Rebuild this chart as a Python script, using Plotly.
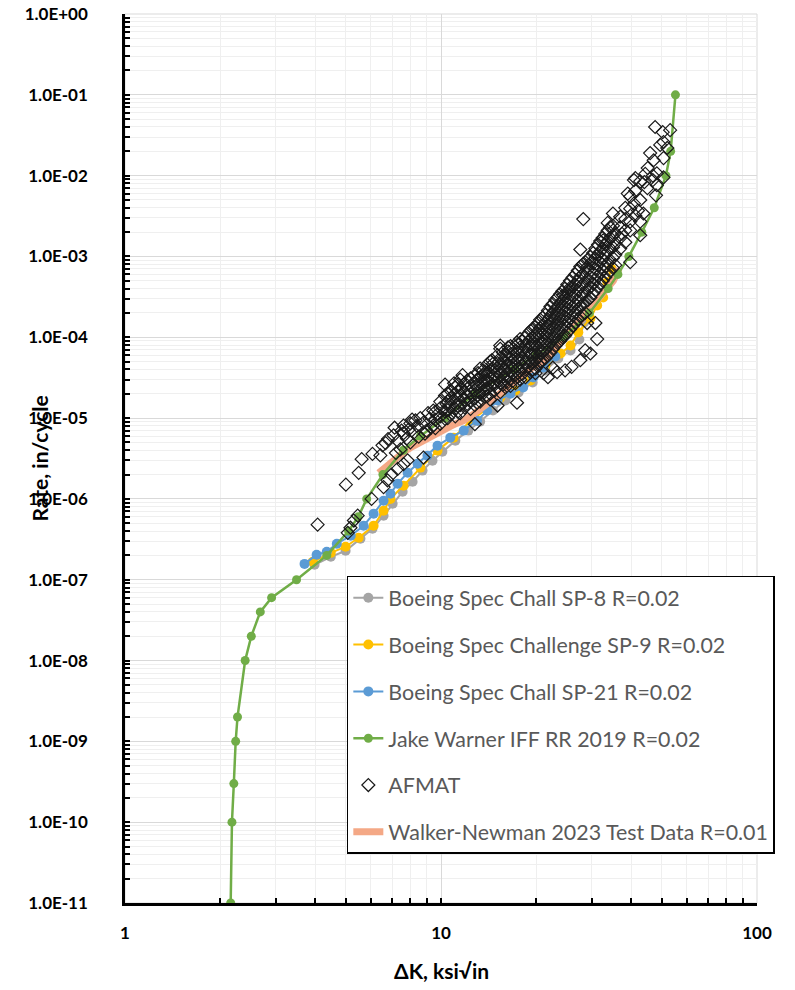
import plotly.graph_objects as go

# ---------------- data ----------------
sp8_dk = [3.98, 4.48, 4.99, 5.56, 6.07, 6.58, 7.03, 7.56, 8.13, 8.74, 9.40, 10.1, 11.1, 12.2,
          13.3, 14.6, 16.0, 17.6, 19.5, 21.4, 23.5, 25.7, 27.4, 28.4, 29.0, 29.5, 29.2]
sp8_rate = [1.53e-7, 1.92e-7, 2.28e-7, 3.21e-7, 4.27e-7, 6.19e-7, 8.7e-7, 1.23e-6, 1.63e-6,
            2.24e-6, 2.97e-6, 3.84e-6, 5.26e-6, 7.0e-6, 9.05e-6, 1.24e-5, 1.65e-5, 2.07e-5,
            2.75e-5, 3.88e-5, 5.46e-5, 6.86e-5, 9.4e-5, 1.53e-4, 2.86e-4, 4.78e-4, 7.76e-4]

sp9_dk = [3.93, 4.48, 4.99, 5.49, 6.12, 6.58, 6.92, 7.61, 8.61, 9.75, 10.95, 12.4, 14.0, 15.4,
          17.2, 19.2, 21.4, 23.9, 25.7, 27.2, 29.7, 31.2, 32.6, 33.6, 34.6]
sp9_rate = [1.67e-7, 2.15e-7, 2.56e-7, 3.31e-7, 4.66e-7, 7.14e-7, 1.0e-6, 1.46e-6, 2.44e-6,
            3.96e-6, 5.73e-6, 9.3e-6, 1.31e-5, 1.79e-5, 2.19e-5, 2.92e-5, 4.48e-5, 6.3e-5,
            7.9e-5, 1.15e-4, 1.71e-4, 2.48e-4, 3.11e-4, 4.78e-4, 7.1e-4]

sp21_dk = [3.70, 4.04, 4.35, 4.68, 5.18, 5.69, 6.12, 6.58, 6.92, 7.29, 7.84, 8.43, 9.06, 9.75,
           10.7, 11.8, 13.0, 14.0, 15.1, 16.6, 18.2, 19.6, 21.1, 23.0]
sp21_rate = [1.57e-7, 2.04e-7, 2.22e-7, 2.79e-7, 3.5e-7, 4.66e-7, 6.56e-7, 9.5e-7, 1.16e-6,
             1.54e-6, 2.11e-6, 2.73e-6, 3.43e-6, 4.56e-6, 5.73e-6, 7.0e-6, 9.3e-6, 1.24e-5,
             1.65e-5, 2.01e-5, 2.39e-5, 3.18e-5, 4.23e-5, 5.8e-5]

jw_dk = [2.16, 2.18, 2.21, 2.24, 2.27, 2.40, 2.51, 2.68, 2.91, 3.49, 4.35, 5.10, 5.47, 5.82,
         6.55, 7.60, 8.61, 10.3, 12.8, 17.0, 20.0, 24.5, 29.5, 33.8, 36.3, 39.3, 43.2, 47.3,
         51.5, 53.3, 55.2]
jw_rate = [1e-11, 1e-10, 3e-10, 1e-9, 2e-9, 1e-8, 2e-8, 4e-8, 6e-8, 1e-7, 2e-7, 4e-7, 6e-7,
           1e-6, 2e-6, 4e-6, 6e-6, 1e-5, 2e-5, 4e-5, 6e-5, 1e-4, 2e-4, 4e-4, 6e-4, 1e-3, 2e-3,
           4e-3, 1e-2, 2e-2, 1e-1]

wn_dk = [6.35, 6.68, 6.92, 7.2, 7.44, 7.7, 8.0, 8.4, 8.81, 9.25, 9.75, 10.2, 10.7, 11.2, 11.8,
         12.6, 13.6, 14.6, 15.8, 17.0, 18.2, 19.6, 21.1, 22.8, 24.4, 26.2, 28.2, 30.3, 32.6,
         35.1, 36.6]
wn_rate = [2.1e-6, 2.5e-6, 2.8e-6, 3.1e-6, 3.4e-6, 3.9e-6, 4.3e-6, 4.8e-6, 5.3e-6, 5.9e-6,
           6.6e-6, 7.2e-6, 7.9e-6, 8.6e-6, 9.3e-6, 1.1e-5, 1.35e-5, 1.7e-5, 2.2e-5, 2.8e-5,
           3.5e-5, 4.3e-5, 5.2e-5, 7.0e-5, 9.9e-5, 1.3e-4, 1.75e-4, 2.5e-4, 3.5e-4, 5.0e-4, 7.1e-4]

# AFMAT scatter: (delta K, rate) pairs
afmat_points = [
    (4.07, 4.8e-7), (5.0, 1.5e-6), (5.07, 3.8e-7), (5.17, 4.4e-7), (5.3, 5.4e-7), (5.45, 6.2e-7),
    (5.49, 2.1e-6), (5.61, 3.1e-6), (6.03, 1.0e-6), (6.07, 3.6e-6), (6.43, 3.45e-6), (6.53, 4.6e-6),
    (6.68, 4.9e-6), (6.58, 1.4e-6), (6.77, 1.7e-6), (6.97, 2.0e-6), (7.08, 6.1e-6), (7.13, 7.6e-6),
    (7.29, 2.35e-6), (7.61, 2.7e-6), (7.61, 8.1e-6), (7.61, 6.5e-6), (7.84, 3.0e-6), (8.0, 8.6e-6),
    (8.3, 9.35e-6), (8.6, 1.0e-5), (8.8, 3.25e-6), (9.1, 1.15e-5), (9.45, 1.24e-5), (9.95, 1.33e-5),
    (10.4, 1.5e-5), (7.44, 4.1e-6), (8.0, 5.0e-6), (8.5, 5.9e-6), (9.0, 7.0e-6), (9.45, 8.1e-6),
    (7.2, 3.7e-6), (7.3, 5.2e-6), (7.8, 5.6e-6), (7.9, 7.2e-6), (8.2, 6.6e-6), (8.4, 8.0e-6),
    (8.8, 8.8e-6), (8.9, 6.4e-6), (9.2, 9.8e-6), (9.3, 7.6e-6), (9.7, 1.1e-5), (6.8, 5.5e-6),
    (7.5, 7.0e-6), (8.1, 9.6e-6),
    (9.6, 1.2e-5), (9.6, 9.5e-6), (9.6, 7.5e-6),
    (9.95, 1.6e-5), (9.95, 1.05e-5), (9.95, 8.5e-6),
    (10.3, 1.9e-5), (10.3, 1.2e-5), (10.3, 9.8e-6), (10.3, 2.6e-5),
    (10.5, 2.0e-5), (10.5, 1.6e-5), (10.5, 1.25e-5), (10.5, 1.0e-5),
    (10.7, 2.2e-5), (10.7, 1.75e-5), (10.7, 1.4e-5), (10.7, 1.1e-5),
    (11.0, 2.7e-5),
    (11.1, 2.4e-5), (11.1, 2.0e-5), (11.1, 1.6e-5), (11.1, 1.3e-5), (11.1, 1.05e-5),
    (11.3, 2.6e-5), (11.3, 2.15e-5), (11.3, 1.75e-5), (11.3, 1.4e-5), (11.3, 1.2e-5),
    (11.5, 3.0e-5), (11.5, 2.3e-5), (11.5, 1.85e-5), (11.5, 1.45e-5), (11.5, 1.15e-5),
    (11.7, 3.4e-5),
    (11.9, 2.7e-5), (11.9, 2.1e-5), (11.9, 1.7e-5), (11.9, 1.35e-5),
    (12.1, 2.9e-5), (12.1, 2.3e-5), (12.1, 1.85e-5), (12.1, 1.5e-5),
    (12.4, 3.1e-5), (12.4, 2.5e-5), (12.4, 2.0e-5), (12.4, 1.6e-5), (12.4, 1.3e-5),
    (12.8, 3.4e-5), (12.8, 2.7e-5), (12.8, 2.2e-5), (12.8, 1.75e-5), (12.8, 1.45e-5), (12.8, 8.4e-6),
    (13.0, 3.0e-5), (13.0, 2.4e-5), (13.0, 1.9e-5), (13.0, 1.55e-5),
    (13.1, 3.6e-5),
    (13.3, 4.1e-5), (13.3, 3.2e-5), (13.3, 2.5e-5), (13.3, 2.0e-5), (13.3, 1.6e-5),
    (13.6, 3.9e-5), (13.6, 3.4e-5), (13.6, 2.7e-5), (13.6, 2.15e-5),
    (13.8, 3.7e-5), (13.8, 2.9e-5), (13.8, 2.3e-5), (13.8, 1.85e-5),
    (14.0, 4.6e-5), (14.0, 3.6e-5), (14.0, 2.9e-5), (14.0, 2.3e-5), (14.0, 1.85e-5),
    (14.3, 5.0e-5), (14.3, 3.9e-5), (14.3, 3.1e-5), (14.3, 2.5e-5), (14.3, 2.0e-5), (14.3, 1.7e-5),
    (14.5, 5.2e-5),
    (14.6, 4.7e-5), (14.6, 4.1e-5), (14.6, 3.3e-5), (14.6, 2.6e-5),
    (14.8, 4.4e-5), (14.8, 3.5e-5), (14.8, 2.8e-5), (14.8, 2.2e-5),
    (15.1, 1.43e-5),
    (15.1, 6.0e-5), (15.1, 4.8e-5), (15.1, 3.8e-5), (15.1, 3.0e-5), (15.1, 2.4e-5),
    (15.4, 7.2e-5), (15.4, 5.5e-5), (15.4, 4.3e-5), (15.4, 3.4e-5), (15.4, 2.7e-5), (15.4, 2.1e-5),
    (15.4, 7.9e-5),
    (15.7, 6.5e-5), (15.7, 5.1e-5), (15.7, 4.0e-5), (15.7, 3.2e-5), (15.7, 2.6e-5),
    (16.0, 6.0e-5), (16.0, 4.8e-5), (16.0, 3.8e-5), (16.0, 3.0e-5), (16.0, 2.4e-5),
    (16.3, 7.5e-5),
    (16.3, 6.7e-5), (16.3, 5.4e-5), (16.3, 4.3e-5), (16.3, 3.4e-5), (16.3, 2.8e-5),
    (16.6, 7.8e-5), (16.6, 6.2e-5), (16.6, 4.9e-5), (16.6, 3.9e-5), (16.6, 3.1e-5), (16.6, 2.5e-5),
    (16.9, 7.2e-5), (16.9, 5.8e-5), (16.9, 4.6e-5), (16.9, 3.6e-5), (16.9, 2.9e-5),
    (17.2, 6.8e-5), (17.2, 5.4e-5), (17.2, 4.3e-5), (17.2, 3.4e-5), (17.2, 2.7e-5),
    (17.4, 8.6e-5), (17.4, 1.55e-5),
    (17.5, 8.2e-5), (17.5, 6.5e-5), (17.5, 5.2e-5), (17.5, 4.1e-5), (17.5, 3.2e-5),
    (17.8, 9.5e-5), (17.8, 7.5e-5), (17.8, 6.0e-5), (17.8, 4.8e-5), (17.8, 3.8e-5), (17.8, 3.0e-5),
    (18.1, 9.0e-5), (18.1, 7.0e-5), (18.1, 5.5e-5), (18.1, 4.4e-5), (18.1, 3.5e-5),
    (18.5, 1.0e-4), (18.5, 8.0e-5), (18.5, 6.4e-5), (18.5, 5.0e-5), (18.5, 4.0e-5), (18.5, 3.2e-5),
    (18.8, 1.1e-4), (18.8, 8.7e-5), (18.8, 6.9e-5), (18.8, 5.5e-5), (18.8, 4.3e-5),
    (19.2, 1.2e-4), (19.2, 9.5e-5), (19.2, 7.5e-5), (19.2, 6.0e-5), (19.2, 4.7e-5), (19.2, 3.7e-5),
    (19.5, 1.28e-4), (19.5, 1.0e-4), (19.5, 8.0e-5), (19.5, 6.3e-5), (19.5, 5.0e-5), (19.5, 4.0e-5),
    (19.9, 1.35e-4), (19.9, 1.05e-4), (19.9, 8.3e-5), (19.9, 6.5e-5), (19.9, 5.2e-5), (19.9, 4.1e-5),
    (19.9, 3.6e-5),
    (20.2, 1.1e-4),
    (20.3, 1.5e-4), (20.3, 1.2e-4), (20.3, 9.3e-5), (20.3, 7.3e-5), (20.3, 5.7e-5), (20.3, 4.6e-5),
    (20.6, 1.65e-4), (20.6, 1.3e-4), (20.6, 1.0e-4), (20.6, 8.0e-5), (20.6, 6.3e-5), (20.6, 5.0e-5),
    (21.0, 1.75e-4), (21.0, 1.4e-4), (21.0, 1.08e-4), (21.0, 8.5e-5), (21.0, 6.6e-5), (21.0, 5.2e-5),
    (21.1, 3.6e-5),
    (21.4, 1.9e-4), (21.4, 1.5e-4), (21.4, 1.15e-4), (21.4, 9.0e-5), (21.4, 7.0e-5), (21.4, 5.5e-5),
    (21.8, 3.2e-5),
    (21.8, 2.15e-4), (21.8, 1.65e-4), (21.8, 1.3e-4), (21.8, 1.0e-4), (21.8, 7.8e-5), (21.8, 6.0e-5),
    (22.2, 2.4e-4), (22.2, 1.85e-4), (22.2, 1.45e-4), (22.2, 1.1e-4), (22.2, 8.5e-5), (22.2, 6.5e-5),
    (22.6, 4.2e-5),
    (22.6, 2.6e-4), (22.6, 2.0e-4), (22.6, 1.55e-4), (22.6, 1.2e-4), (22.6, 9.3e-5), (22.6, 7.2e-5),
    (23.0, 2.9e-4), (23.0, 2.2e-4), (23.0, 1.7e-4), (23.0, 1.3e-4), (23.0, 1.0e-4), (23.0, 7.8e-5),
    (23.3, 3.7e-5),
    (23.4, 3.1e-4), (23.4, 2.4e-4), (23.4, 1.85e-4), (23.4, 1.42e-4), (23.4, 1.1e-4), (23.4, 8.5e-5),
    (23.8, 3.4e-4), (23.8, 2.6e-4), (23.8, 2.0e-4), (23.8, 1.55e-4), (23.8, 1.2e-4), (23.8, 9.0e-5),
    (24.2, 3.7e-4), (24.2, 2.85e-4), (24.2, 2.2e-4), (24.2, 1.7e-4), (24.2, 1.3e-4), (24.2, 1.0e-4),
    (24.4, 3.3e-4),
    (24.7, 4.0e-4), (24.7, 3.1e-4), (24.7, 2.4e-4), (24.7, 1.8e-4), (24.7, 1.4e-4), (24.7, 1.05e-4),
    (24.7, 3.9e-5),
    (25.1, 4.5e-4), (25.1, 3.5e-4), (25.1, 2.65e-4), (25.1, 2.0e-4), (25.1, 1.55e-4), (25.1, 1.15e-4),
    (25.6, 5.0e-4), (25.6, 3.8e-4), (25.6, 2.9e-4), (25.6, 2.2e-4), (25.6, 1.7e-4), (25.6, 1.25e-4),
    (25.6, 4.1e-4),
    (25.9, 4.3e-5),
    (26.1, 5.5e-4), (26.1, 4.2e-4), (26.1, 3.2e-4), (26.1, 2.4e-4), (26.1, 1.85e-4), (26.1, 1.38e-4),
    (26.6, 6.0e-4), (26.6, 4.5e-4), (26.6, 3.4e-4), (26.6, 2.6e-4), (26.6, 2.0e-4), (26.6, 1.5e-4),
    (27.1, 6.7e-4), (27.1, 5.0e-4), (27.1, 3.8e-4), (27.1, 2.85e-4), (27.1, 2.2e-4), (27.1, 1.65e-4),
    (27.6, 7.5e-4), (27.6, 5.6e-4), (27.6, 4.2e-4), (27.6, 3.2e-4), (27.6, 2.4e-4), (27.6, 1.8e-4),
    (27.6, 5.2e-5), (27.6, 1.22e-3),
    (28.1, 8.0e-4), (28.1, 6.0e-4), (28.1, 4.5e-4), (28.1, 3.4e-4), (28.1, 2.55e-4), (28.1, 1.9e-4),
    (28.2, 2.9e-3),
    (28.6, 8.5e-4), (28.6, 6.4e-4), (28.6, 4.8e-4), (28.6, 3.6e-4), (28.6, 2.7e-4), (28.6, 2.0e-4),
    (28.6, 6.9e-5),
    (29.0, 7.4e-4), (29.0, 1.5e-4),
    (29.2, 9.2e-4), (29.2, 6.9e-4), (29.2, 5.2e-4), (29.2, 3.9e-4), (29.2, 2.9e-4),
    (29.7, 9.8e-4), (29.7, 5.6e-4), (29.7, 4.2e-4), (29.7, 3.1e-4), (29.7, 6.3e-5),
    (30.0, 8.5e-4),
    (30.3, 1.1e-3), (30.3, 8.2e-4), (30.3, 6.2e-4), (30.3, 4.6e-4), (30.3, 3.5e-4),
    (30.8, 1.25e-3), (30.8, 9.5e-4), (30.8, 7.0e-4), (30.8, 5.2e-4), (30.8, 3.8e-4), (30.8, 1.5e-4),
    (31.2, 9.5e-5),
    (31.4, 1.4e-3), (31.4, 1.05e-3), (31.4, 7.8e-4), (31.4, 5.7e-4), (31.4, 4.2e-4),
    (31.9, 1.55e-3), (31.9, 1.15e-3), (31.9, 8.5e-4), (31.9, 6.2e-4), (31.9, 4.6e-4),
    (32.5, 1.7e-3), (32.5, 1.25e-3), (32.5, 9.3e-4), (32.5, 6.8e-4), (32.5, 5.0e-4),
    (32.6, 1.58e-3),
    (33.1, 1.9e-3), (33.1, 1.4e-3), (33.1, 1.05e-3), (33.1, 7.5e-4), (33.1, 5.5e-4),
    (33.7, 2.6e-3),
    (33.7, 2.1e-3), (33.7, 1.55e-3), (33.7, 1.15e-3), (33.7, 8.3e-4), (33.7, 6.1e-4),
    (34.3, 2.3e-3), (34.3, 1.7e-3), (34.3, 1.25e-3), (34.3, 9.0e-4), (34.3, 6.6e-4),
    (35.0, 3.4e-3),
    (35.0, 2.4e-3), (35.0, 1.8e-3), (35.0, 1.3e-3), (35.0, 9.6e-4), (35.0, 7.2e-4),
    (35.6, 1.95e-3), (35.6, 1.45e-3), (35.6, 1.05e-3), (35.6, 7.8e-4),
    (36.9, 3.1e-3), (36.9, 2.3e-3), (36.9, 1.7e-3), (36.9, 1.25e-3),
    (37.4, 1.9e-3),
    (38.3, 4.0e-3), (38.3, 2.9e-3), (38.3, 2.1e-3), (38.3, 1.5e-3),
    (39.0, 6.0e-3),
    (39.7, 5.5e-3), (39.7, 3.9e-3), (39.7, 2.7e-3), (39.7, 2.1e-3), (39.7, 8.5e-4),
    (40.8, 8.8e-3), (40.8, 4.5e-3),
    (41.2, 9.3e-3), (41.2, 6.5e-3), (41.2, 3.2e-3),
    (42.0, 3.7e-3),
    (42.7, 8.5e-3), (42.7, 5.0e-3), (42.7, 2.7e-3), (42.7, 1.83e-3),
    (43.7, 3.4e-3),
    (44.0, 8.3e-3), (44.3, 1.05e-2),
    (45.0, 7.0e-3), (45.1, 1.24e-2), (45.9, 1.9e-2),
    (46.8, 8.8e-3), (46.8, 1.0e-2), (47.1, 1.55e-2), (47.6, 4.0e-2), (47.9, 5.7e-3),
    (48.2, 1.07e-2), (48.2, 7.6e-3), (49.4, 2.4e-2), (50.3, 3.45e-2),
    (50.6, 9.5e-3), (50.6, 1.65e-2), (50.6, 2.6e-2), (52.0, 2.2e-2), (53.1, 3.65e-2),
]
afmat_dk = [p[0] for p in afmat_points]
afmat_rate = [p[1] for p in afmat_points]

y_tick_vals = [10.0 ** e for e in range(-11, 1)]
y_tick_text = ["1.0E%+03d" % e for e in range(-11, 1)]
x_tick_vals = [1, 10, 100]
x_tick_text = ["1", "10", "100"]

# ---------------- figure ----------------
FONT = "Lato"
fig = go.Figure()

def add_series(dk, rate, name, color, rank, width=2, size=10):
    fig.add_trace(go.Scatter(
        x=dk, y=rate, name=name, mode="lines+markers", legendgroup=name, legendrank=rank,
        line=dict(color=color, width=width),
        marker=dict(color=color, size=size, symbol="circle"),
    ))

add_series(sp8_dk, sp8_rate, "Boeing Spec Chall SP-8 R=0.02", "#A5A5A5", 1)
add_series(sp9_dk, sp9_rate, "Boeing Spec Challenge SP-9 R=0.02", "#FFC000", 2)
add_series(sp21_dk, sp21_rate, "Boeing Spec Chall SP-21 R=0.02", "#5B9BD5", 3)
fig.add_trace(go.Scatter(
    x=wn_dk, y=wn_rate, name="Walker-Newman 2023 Test Data R=0.01", mode="lines",
    legendgroup="wn", legendrank=6, line=dict(color="#F4A886", width=7),
))
add_series(jw_dk, jw_rate, "Jake Warner IFF RR 2019 R=0.02", "#70AD47", 4, width=2.5, size=9)
fig.add_trace(go.Scatter(
    x=afmat_dk, y=afmat_rate, name="AFMAT", mode="markers", legendgroup="af", legendrank=5,
    marker=dict(symbol="diamond-open", size=10, color="#1a1a1a", line=dict(width=1.2, color="#1a1a1a")),
))

minor_x = [k * 10.0 ** e for e in range(0, 2) for k in range(2, 10)]
minor_y = [k * 10.0 ** e for e in range(-11, 0) for k in range(2, 10)]

common = dict(
    type="log", ticks="inside", ticklen=5, tickwidth=2, tickcolor="black",
    showline=True, linecolor="black", linewidth=2.5,
    showgrid=True, gridcolor="#d9d9d9", gridwidth=1,
    tickfont=dict(family=FONT, size=17, color="black", weight="bold"),
    zeroline=False, automargin=False, ticklabeloverflow="allow",
)
fig.update_xaxes(
    range=[0, 2], tickvals=x_tick_vals, ticktext=x_tick_text, ticklabelstandoff=13,
    minor=dict(tickvals=minor_x, ticks="inside", ticklen=5, tickwidth=2, tickcolor="black",
               showgrid=True, gridcolor="#efefef", gridwidth=1),
    **common,
)
fig.update_yaxes(
    range=[-11, 0], tickvals=y_tick_vals, ticktext=y_tick_text, ticklabelstandoff=31,
    minor=dict(tickvals=minor_y, ticks="inside", ticklen=5, tickwidth=2, tickcolor="black",
               showgrid=True, gridcolor="#efefef", gridwidth=1),
    **common,
)

fig.add_shape(type="rect", xref="paper", yref="paper", x0=0, x1=1, y0=0, y1=1,
              line=dict(color="#d9d9d9", width=1), layer="below")

fig.add_annotation(text="ΔK, ksi√in", xref="paper", yref="paper", x=0.5, y=-0.0754,
                   showarrow=False, yanchor="middle",
                   font=dict(family=FONT, size=21, color="black", weight="bold"))
fig.add_annotation(text="Rate, in/cycle", xref="paper", yref="paper", x=-0.1345, y=0.5,
                   showarrow=False, textangle=-90, xanchor="center",
                   font=dict(family=FONT, size=21, color="black", weight="bold"))

fig.update_layout(
    width=795, height=990,
    margin=dict(l=125, r=38, t=14, b=87, autoexpand=False),
    paper_bgcolor="white", plot_bgcolor="white",
    legend=dict(
        x=0.351, y=0.368, xanchor="left", yanchor="top",
        bgcolor="white", bordercolor="black", borderwidth=1.5,
        font=dict(family=FONT, size=21.4, color="#595959"),
        tracegroupgap=16, itemwidth=30,
    ),
    showlegend=True,
)

# remove the browser's default 8 px page margin so the 795x990 figure fills the window
fig.write_html("out.html", config={"displayModeBar": False},
               post_script="document.body.style.margin='0px';")
